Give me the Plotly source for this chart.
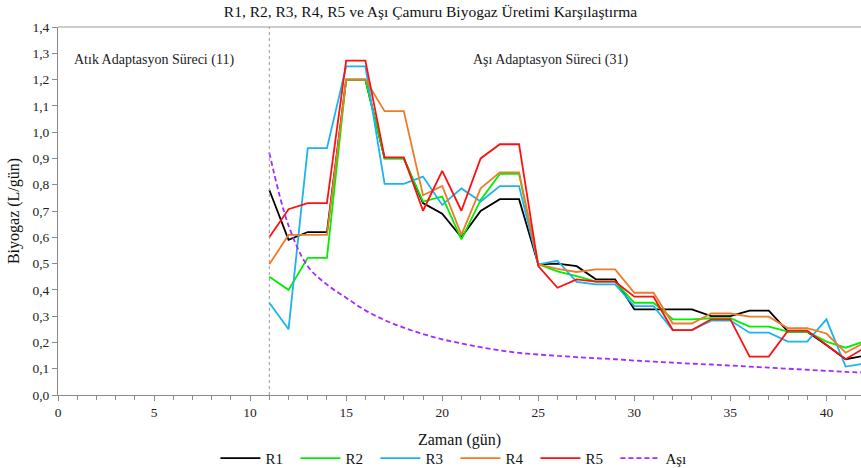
import plotly.graph_objects as go

days = list(range(11, 43))
R1 = [0.78, 0.59, 0.62, 0.62, 1.20, 1.20, 0.90, 0.90, 0.73, 0.69, 0.60, 0.70, 0.745, 0.745, 0.497, 0.50,
      0.49, 0.44, 0.44, 0.326, 0.326, 0.326, 0.326, 0.30, 0.30, 0.321, 0.321, 0.241, 0.241, 0.19, 0.136, 0.15]
R2 = [0.45, 0.40, 0.522, 0.522, 1.20, 1.20, 0.90, 0.90, 0.736, 0.755, 0.592, 0.742, 0.841, 0.841, 0.497, 0.47,
      0.452, 0.431, 0.431, 0.351, 0.351, 0.288, 0.288, 0.292, 0.292, 0.26, 0.26, 0.241, 0.241, 0.203, 0.18, 0.205]
R3 = [0.351, 0.25, 0.939, 0.939, 1.25, 1.25, 0.803, 0.803, 0.831, 0.723, 0.786, 0.736, 0.795, 0.795, 0.497, 0.511,
      0.43, 0.421, 0.421, 0.338, 0.338, 0.247, 0.247, 0.283, 0.283, 0.237, 0.237, 0.203, 0.203, 0.288, 0.108, 0.12]
R4 = [0.497, 0.609, 0.609, 0.609, 1.20, 1.20, 1.08, 1.08, 0.76, 0.795, 0.609, 0.786, 0.847, 0.847, 0.497, 0.48,
      0.468, 0.478, 0.478, 0.389, 0.389, 0.272, 0.272, 0.31, 0.31, 0.298, 0.298, 0.254, 0.254, 0.234, 0.161, 0.20]
R5 = [0.60, 0.707, 0.73, 0.73, 1.272, 1.272, 0.904, 0.904, 0.701, 0.853, 0.701, 0.90, 0.954, 0.954, 0.49, 0.408,
      0.44, 0.431, 0.431, 0.374, 0.374, 0.247, 0.247, 0.288, 0.288, 0.146, 0.146, 0.245, 0.245, 0.19, 0.136, 0.18]
ASI = [0.922, 0.645, 0.49, 0.42, 0.37, 0.322, 0.285, 0.256, 0.232, 0.212, 0.196, 0.182, 0.17, 0.16, 0.154, 0.149,
       0.144, 0.14, 0.136, 0.131, 0.127, 0.123, 0.119, 0.116, 0.112, 0.108, 0.104, 0.10, 0.096, 0.092, 0.088, 0.085]

series_names = ["R1", "R2", "R3", "R4", "R5"]
series_values = [R1, R2, R3, R4, R5]
colors = ["#000000", "#00EE00", "#1CB4EE", "#EE7B27", "#FF1010"]
asi_name = "Aşı"
asi_color = "#A22BFF"

adaptation_day = 11
title = "R1, R2, R3, R4, R5 ve Aşı Çamuru Biyogaz Üretimi Karşılaştırma"
left_label = "Atık Adaptasyon Süreci (11)"
right_label = "Aşı Adaptasyon Süreci (31)"

FONT = "Liberation Serif, Times New Roman, serif"

fig = go.Figure()
for name, vals, col in zip(series_names, series_values, colors):
    fig.add_trace(go.Scatter(x=days, y=vals, name=name, mode="lines",
                             line=dict(color=col, width=1.8)))
fig.add_trace(go.Scatter(x=days, y=ASI, name=asi_name, mode="lines",
                         line=dict(color=asi_color, width=1.8, dash="5px,3px", shape="spline")))

fig.add_shape(type="line", xref="x", yref="paper", x0=adaptation_day, x1=adaptation_day, y0=0, y1=1,
              line=dict(color="#999999", width=1, dash="dot"))
fig.add_shape(type="line", xref="paper", yref="paper", x0=0, x1=1, y0=1, y1=1,
              line=dict(color="#9a9a9a", width=1))

fig.add_annotation(text=left_label, xref="paper", yref="paper", x=0.0175, y=0.91,
                   xanchor="left", yanchor="middle", showarrow=False,
                   font=dict(family=FONT, size=14, color="#222"))
fig.add_annotation(text=right_label, xref="paper", yref="paper", x=0.514, y=0.91,
                   xanchor="left", yanchor="middle", showarrow=False,
                   font=dict(family=FONT, size=14, color="#222"))

fig.update_layout(
    width=861, height=468,
    margin=dict(l=58, r=0, t=27, b=73, autoexpand=False),
    paper_bgcolor="white", plot_bgcolor="white",
    separators=", ",
    font=dict(family=FONT, size=13, color="#222"),
    title=dict(text=title, x=0.5, xanchor="center", y=0.975, yanchor="middle",
               font=dict(family=FONT, size=15.5, color="#111")),
    showlegend=True,
    legend=dict(orientation="h", x=0.196, xanchor="left", y=-0.172, yanchor="middle",
                font=dict(family=FONT, size=15, color="#111"), itemwidth=40,
                entrywidth=25, entrywidthmode="pixels"),
    xaxis=dict(range=[0, 41.8], dtick=5, tick0=0, showgrid=False, zeroline=False, automargin=False,
               showline=True, linecolor="#8a8a8a", linewidth=1,
               ticks="outside", ticklen=5, tickcolor="#8a8a8a",
               minor=dict(dtick=1, ticks="outside", ticklen=4, tickcolor="#8a8a8a"),
               tickfont=dict(family=FONT, size=13.5, color="#222"),
               title=dict(text="Zaman (gün)", font=dict(family=FONT, size=16, color="#111"), standoff=14)),
    yaxis=dict(range=[0, 1.4], dtick=0.1, tick0=0, tickformat=".1f", showgrid=False, zeroline=False,
               automargin=False,
               showline=True, linecolor="#8a8a8a", linewidth=1,
               ticks="outside", ticklen=5, tickcolor="#8a8a8a",
               tickfont=dict(family=FONT, size=13.5, color="#222"),
               title=dict(text="Biyogaz (L/gün)", font=dict(family=FONT, size=16, color="#111"), standoff=8)),
)

fig.write_html("out.html", config={"displayModeBar": False},
               post_script="document.body.style.margin='0';document.body.style.overflow='hidden';")
